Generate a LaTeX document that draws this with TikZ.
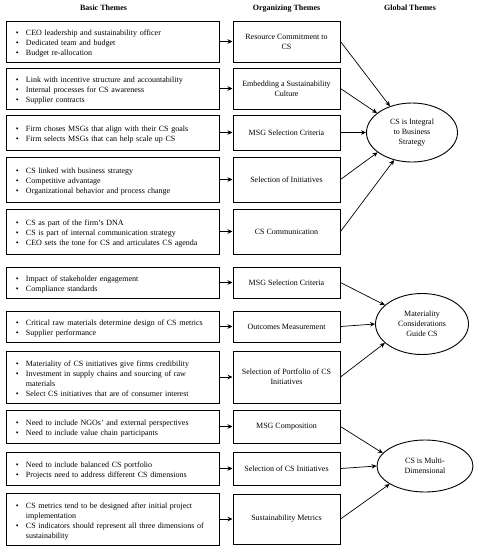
\documentclass[tikz,border=0pt]{standalone}
\usepackage{fontspec}
\setmainfont{Liberation Serif}
\usepackage{tikz}
\usetikzlibrary{shapes.geometric,arrows.meta}

\newcommand{\bul}{\par\noindent\makebox[10pt][l]{\textbullet}}
\newcommand{\cont}{\par\noindent\hspace*{10pt}}

\begin{document}
\begin{tikzpicture}[x=1pt, y=1pt, >={Stealth[length=5pt,width=4.5pt]},
                    every node/.style={font=\fontsize{8}{10}\selectfont},
                    basicbox/.style={rectangle, draw, line width=1pt, text width=193pt,
                                     inner xsep=10pt, align=left},
                    orgbox/.style={rectangle, draw, line width=1pt, minimum width=107pt,
                                   align=center, node distance=174pt},
                    globalellipse/.style={ellipse, draw, line width=0.9pt, inner sep=1pt,
                                          align=center},
                    heading/.style={font=\fontsize{8}{10}\selectfont\bfseries}]

\useasboundingbox (0,0) rectangle (479,-550);

% Basic themes
\node[basicbox, minimum height=41pt] at (112.5,-41.5) (basic1)
  {\bul CEO leadership and sustainability officer
   \bul Dedicated team and budget
   \bul Budget re-allocation};
\node[basicbox, minimum height=41pt, node distance=47pt, below of=basic1] (basic2)
  {\bul Link with incentive structure and accountability
   \bul Internal processes for CS awareness
   \bul Supplier contracts};
\node[basicbox, minimum height=35pt, node distance=44pt, below of=basic2] (basic3)
  {\bul Firm choses MSGs that align with their CS goals
   \bul Firm selects MSGs that can help scale up CS};
\node[basicbox, minimum height=45pt, node distance=47pt, below of=basic3] (basic4)
  {\bul CS linked with business strategy
   \bul Competitive advantage
   \bul Organizational behavior and process change};
\node[basicbox, minimum height=45pt, node distance=52pt, below of=basic4] (basic5)
  {\bul CS as part of the firm's DNA
   \bul CS is part of internal communication strategy
   \bul CEO sets the tone for CS and articulates CS agenda};
\node[basicbox, minimum height=31pt, node distance=51pt, below of=basic5] (basic6)
  {\bul Impact of stakeholder engagement
   \bul Compliance standards};
\node[basicbox, minimum height=31pt, node distance=44pt, below of=basic6] (basic7)
  {\bul Critical raw materials determine design of CS metrics
   \bul Supplier performance};
\node[basicbox, minimum height=52pt, node distance=50.5pt, below of=basic7] (basic8)
  {\bul Materiality of CS initiatives give firms credibility
   \bul Investment in supply chains and sourcing of raw
   \cont materials
   \bul Select CS initiatives that are of consumer interest};
\node[basicbox, minimum height=33pt, node distance=49.5pt, below of=basic8] (basic9)
  {\bul Need to include NGOs' and external perspectives
   \bul Need to include value chain participants};
\node[basicbox, minimum height=33pt, node distance=42pt, below of=basic9] (basic10)
  {\bul Need to include balanced CS portfolio
   \bul Projects need to address different CS dimensions};
\node[basicbox, minimum height=52pt, node distance=50.5pt, below of=basic10] (basic11)
  {\bul CS metrics tend to be designed after initial project
   \cont implementation
   \bul CS indicators should represent all three dimensions of
   \cont sustainability};

% Organizing themes
\node[orgbox, minimum height=41pt, right of=basic1] (commit) {Resource Commitment to\\CS};
\node[orgbox, minimum height=41pt, right of=basic2] (culture) {Embedding a Sustainability\\Culture};
\node[orgbox, minimum height=35pt, right of=basic3] (msgcrit) {MSG Selection Criteria};
\node[orgbox, minimum height=45pt, right of=basic4] (initiatives) {Selection of Initiatives};
\node[orgbox, minimum height=45pt, right of=basic5] (comm) {CS Communication};
\node[orgbox, minimum height=31pt, right of=basic6] (msgcrit2) {MSG Selection Criteria};
\node[orgbox, minimum height=31pt, right of=basic7] (outcomes) {Outcomes Measurement};
\node[orgbox, minimum height=52pt, right of=basic8] (portfolio) {Selection of Portfolio of CS\\Initiatives};
\node[orgbox, minimum height=33pt, right of=basic9] (msgcomp) {MSG Composition};
\node[orgbox, minimum height=33pt, right of=basic10] (csinit) {Selection of CS Initiatives};
\node[orgbox, minimum height=50pt, right of=basic11] (metrics) {Sustainability Metrics};

% Global themes
\node[globalellipse, minimum width=91pt, minimum height=59pt, node distance=125.5pt,
      right of=msgcrit] (integral) {CS is Integral\\to Business\\Strategy};
\node[globalellipse, minimum width=93pt, minimum height=61pt, node distance=135.5pt,
      right of=outcomes, yshift=2.5pt] (materiality) {Materiality\\Considerations\\Guide CS};
\node[globalellipse, minimum width=96pt, minimum height=52pt, node distance=138.5pt,
      right of=csinit, yshift=2.5pt] (multidim) {CS is Multi-\\Dimensional};

% Column headings
\node[heading, node distance=33.5pt, above of=basic1, xshift=-9pt] (basichead) {Basic Themes};
\node[heading, node distance=33pt, above of=commit] (orghead) {Organizing Themes};
\node[heading, node distance=125pt, above of=integral, xshift=-2pt] (globalhead) {Global Themes};

% Connections
\foreach \b/\o in {basic1/commit, basic2/culture, basic3/msgcrit, basic4/initiatives,
                   basic5/comm, basic6/msgcrit2, basic7/outcomes, basic8/portfolio,
                   basic9/msgcomp, basic10/csinit, basic11/metrics}
  \draw[->, line width=0.8pt] (\b) -- (\o);

\draw[->, line width=0.7pt] (commit.east) -- (integral.130);
\draw[->, line width=0.7pt] (culture.east) -- (integral.151);
\draw[->, line width=0.7pt] (msgcrit.east) -- (integral.180);
\draw[->, line width=0.7pt] (initiatives.east) -- (integral.210);
\draw[->, line width=0.7pt] (comm.east) -- (integral.237);

\draw[->, line width=0.7pt] (msgcrit2.east) -- (materiality.153);
\draw[->, line width=0.7pt] (outcomes.east) -- (materiality.180);
\draw[->, line width=0.7pt] (portfolio.east) -- (materiality.207);

\draw[->, line width=0.7pt] (msgcomp.east) -- (multidim.163);
\draw[->, line width=0.7pt] (csinit.east) -- (multidim.180);
\draw[->, line width=0.7pt] (metrics.east) -- (multidim.207);

\end{tikzpicture}
\end{document}
